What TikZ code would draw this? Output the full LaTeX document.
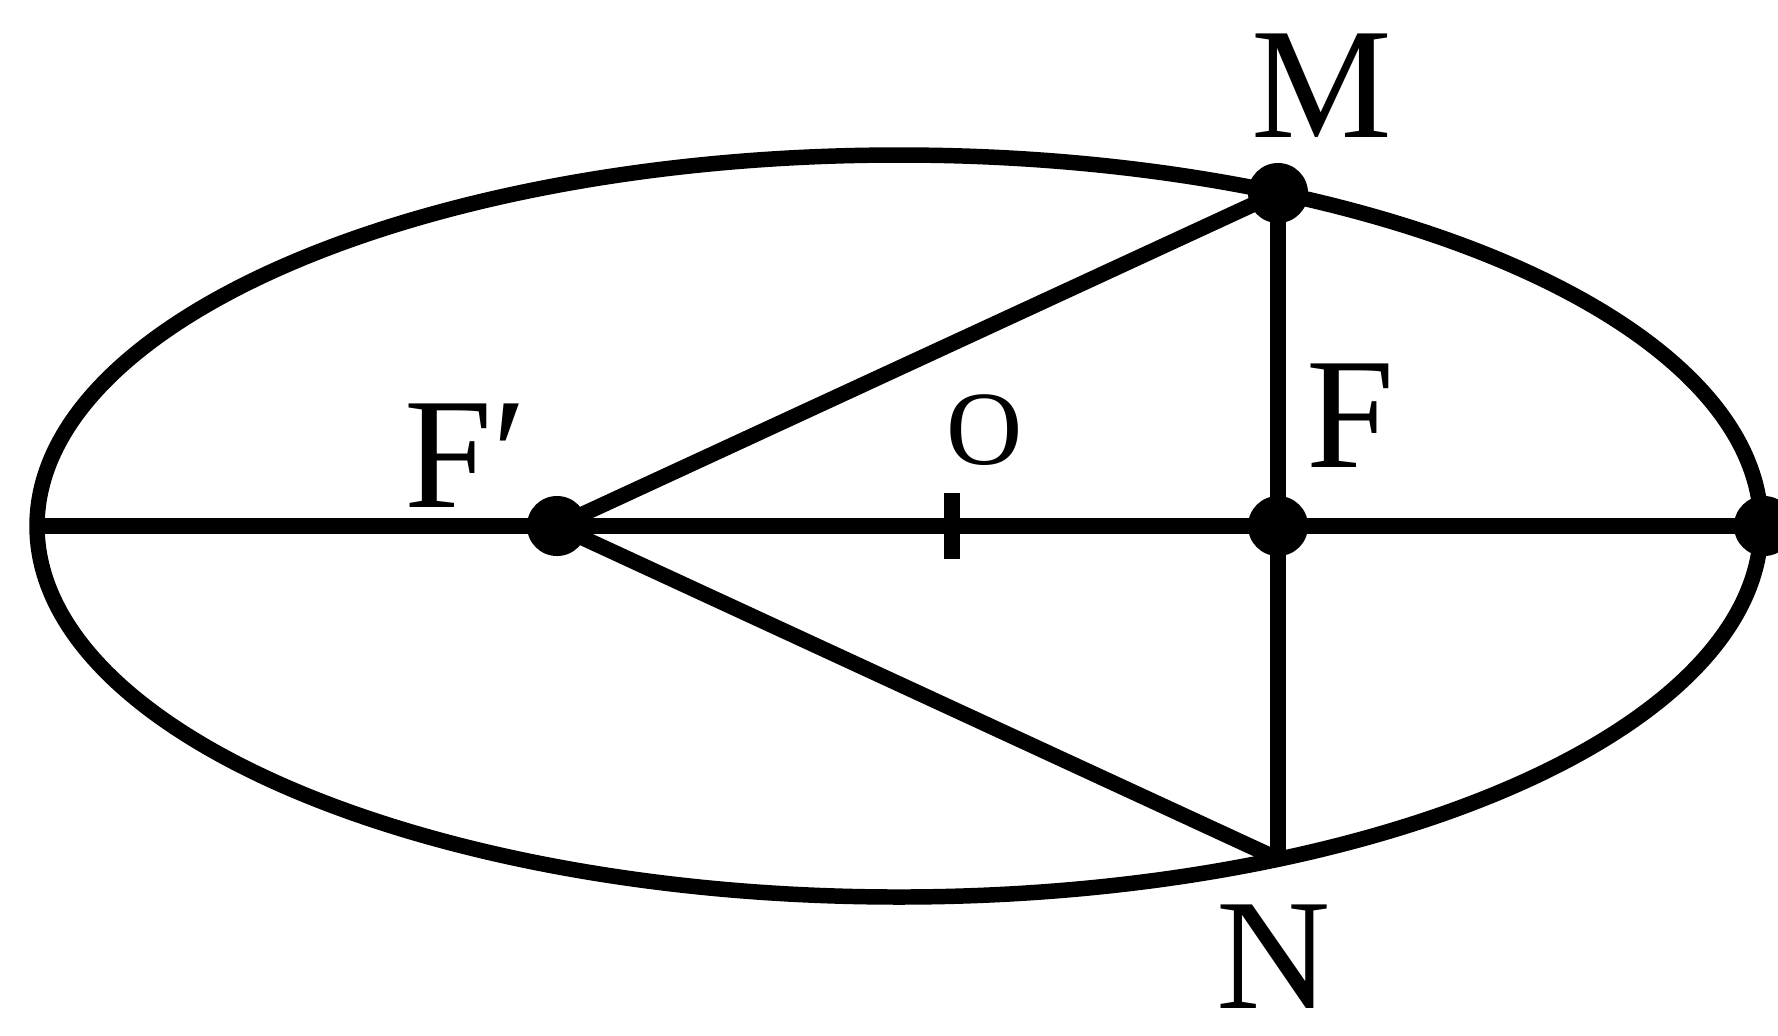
\documentclass[tikz,border=0pt]{standalone}
\usepackage{fontspec}
\setmainfont{Liberation Serif}
\begin{document}
\begin{tikzpicture}[x=0.01cm,y=-0.01cm,
  line width=4.4pt,
  dot/.style={circle,fill=black,inner sep=0pt,minimum size=0.6cm},
  lab/.style={font=\fontsize{45}{50}\selectfont,inner sep=0pt,anchor=base},
  smalllab/.style={font=\fontsize{30}{34}\selectfont,inner sep=0pt,anchor=base}]
\useasboundingbox (0,0) rectangle (1778,1035);
\fill[white] (0,0) rectangle (1778,1035);
\coordinate (C) at (899,526);
\coordinate (A) at (37,526);
\coordinate (B) at (1764,526);
\coordinate (Fp) at (557,526);
\coordinate (F) at (1278,526);
\coordinate (M) at (1278,193);
\coordinate (N) at (1278,859);
\coordinate (O) at (952,526);
\draw (C) ellipse [x radius=862, y radius=371];
\draw (A) -- (B);
\draw (Fp) -- (M);
\draw (Fp) -- (N);
\draw (M) -- (N);
\draw (O) ++(0,-33) -- ++(0,66);
\node[dot] (dFp) at (Fp) {};
\node[dot] (dF) at (F) {};
\node[dot] (dM) at (M) {};
\node[dot] (dB) at (B) {};
\node[lab] (lM) at (1322,137) {M};
\node[lab] (lN) at (1274,1008) {N};
\node[lab] (lF) at (1350,467) {F};
\node[lab] (lFp) at (466,507) {F′};
\node[smalllab] (lO) at (985,464) {O};
\end{tikzpicture}
\end{document}
